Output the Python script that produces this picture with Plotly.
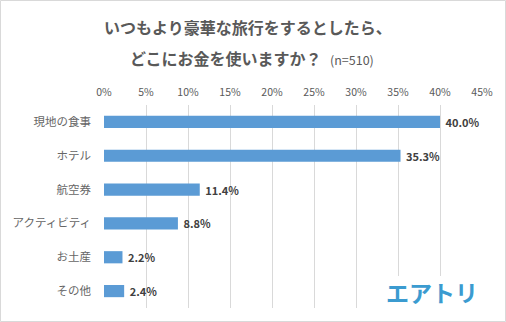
import plotly.graph_objects as go

categories = ["現地の食事", "ホテル", "航空券", "アクティビティ", "お土産", "その他"]
values = [40.0, 35.3, 11.4, 8.8, 2.2, 2.4]
tick_vals = [0, 5, 10, 15, 20, 25, 30, 35, 40, 45]
tick_text = [f"{v}%" for v in tick_vals]
title_line1 = "いつもより豪華な旅行をするとしたら、"
title_line2 = "どこにお金を使いますか？"
sample_note = "(n=510)"
logo_text = "エアトリ"

FONT = "Noto Sans CJK JP"
GRAY = "#595959"

W, H = 506, 322
ml, mr, mt, mb = 104, 24, 105, 14
pw, ph = W - ml - mr, H - mt - mb


def px(xp):
    return (xp - ml) / pw


def py(yp):
    return (H - mb - yp) / ph


fig = go.Figure()
fig.add_trace(go.Bar(
    x=values, y=categories, orientation="h",
    marker=dict(color="#5B9BD5", line=dict(width=0)),
    text=[f"<b> {v:.1f}%</b>" for v in values],
    textposition="outside", cliponaxis=False, constraintext="none",
    textfont=dict(family=FONT, size=11, color="#404040"),
    hoverinfo="skip",
))

fig.update_layout(
    width=W, height=H,
    margin=dict(l=ml, r=mr, t=mt, b=mb, pad=0),
    paper_bgcolor="white", plot_bgcolor="white",
    showlegend=False,
    bargap=0.64,
    font=dict(family=FONT, color=GRAY),
    xaxis=dict(
        side="top", range=[0, 45], tickvals=tick_vals, ticktext=tick_text,
        showgrid=True, gridcolor="#D9D9D9", gridwidth=1,
        zeroline=False, showline=False, ticks="",
        tickfont=dict(family=FONT, size=10.5, color=GRAY),
        ticklabelstandoff=6, fixedrange=True,
    ),
    yaxis=dict(
        autorange="reversed", showgrid=False, zeroline=False, showline=False,
        ticks="", tickfont=dict(family=FONT, size=11.5, color="#666666"),
        ticklabelstandoff=12, fixedrange=True,
    ),
)

annotations = [
    dict(text=f"<b>{title_line1}</b>", x=248, y=27, font=dict(size=16, color=GRAY)),
    dict(text=f"<b>{title_line2}</b>", x=226, y=58, font=dict(size=16, color=GRAY)),
    dict(text=sample_note, x=352, y=59, font=dict(size=12.5, color=GRAY)),
]
for a in annotations:
    fig.add_annotation(
        text=a["text"], xref="paper", yref="paper",
        x=px(a["x"]), y=py(a["y"]),
        xanchor="center", yanchor="middle", showarrow=False,
        font=dict(family=FONT, **a["font"]),
    )

# logo with white background box
fig.add_shape(type="rect", xref="paper", yref="paper",
              x0=px(372), x1=px(494), y0=py(311), y1=py(276),
              fillcolor="white", line=dict(width=0), layer="above")
fig.add_annotation(
    text=f"<b>{logo_text}</b>", xref="paper", yref="paper",
    x=px(432), y=py(292), xanchor="center", yanchor="middle", showarrow=False,
    font=dict(family=FONT, size=23, color="#3B9BD0"),
)

# outer border
fig.add_shape(type="rect", xref="paper", yref="paper",
              x0=px(0.5), x1=px(W - 0.5), y0=py(H - 0.5), y1=py(0.5),
              line=dict(color="#D9D9D9", width=1), fillcolor="rgba(0,0,0,0)", layer="above")

fig.write_html("out.html")
